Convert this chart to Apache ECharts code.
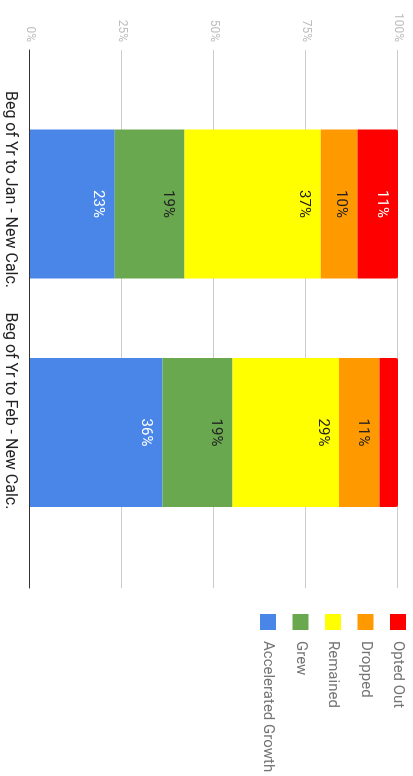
<!DOCTYPE html>
<html>
<head>
<meta charset="utf-8">
<script src="https://cdn.jsdelivr.net/npm/echarts@6/dist/echarts.min.js"></script>
<style>
html,body{margin:0;padding:0;background:#fff;overflow:hidden;width:413px;height:776px;}
#chart{position:absolute;left:0;top:0;width:776px;height:413px;transform-origin:0 0;transform:translateX(413px) rotate(90deg);}
</style>
</head>
<body>
<div id="chart"></div>
<script>
const categories = ['Beg of Yr to Jan - New Calc.', 'Beg of Yr to Feb - New Calc.'];
const seriesNames = ['Accelerated Growth', 'Grew', 'Remained', 'Dropped', 'Opted Out'];
const acceleratedGrowth = [23, 36];
const grew = [19, 19];
const remained = [37, 29];
const dropped = [10, 11];
const optedOut = [11, 5];
const valueTicks = [0, 25, 50, 75, 100];
const legendOrder = ['Opted Out', 'Dropped', 'Remained', 'Grew', 'Accelerated Growth'];

const colors = ['#4a86e8', '#6aa84f', '#ffff00', '#ff9900', '#ff0000'];
const labelColors = ['#ffffff', '#222222', '#222222', '#222222', '#ffffff'];
const values = [acceleratedGrowth, grew, remained, dropped, optedOut];

const chart = echarts.init(document.getElementById('chart'), null, {renderer: 'canvas'});
const FONT = 'Roboto';

const series = seriesNames.map((name, i) => ({
  name: name,
  type: 'bar',
  stack: 'total',
  xAxisIndex: 1,
  yAxisIndex: 1,
  barWidth: 149,
  data: values[i],
  itemStyle: {
    color: colors[i],
    borderRadius: i === seriesNames.length - 1 ? [2, 2, 0, 0] : 0
  },
  label: {
    show: true,
    position: 'insideTop',
    distance: 9,
    color: labelColors[i],
    fontFamily: FONT,
    fontSize: 15,
    lineHeight: 15,
    formatter: p => (p.value >= 8 ? p.value + '%' : '')
  },
  emphasis: {disabled: true}
}));

chart.setOption({
  animation: false,
  textStyle: {fontFamily: FONT},
  grid: [
    {left: 50, right: 188, top: 15, bottom: 30},
    {left: 89.75, right: 229.25, top: 15, bottom: 30},
    {left: 78.75, right: 254.25, top: 15, bottom: 30}
  ],
  xAxis: [
    {gridIndex: 0, type: 'value', min: 0, max: 1,
     axisLine: {show: true, lineStyle: {color: '#333333', width: 1}},
     axisTick: {show: false}, axisLabel: {show: false}, splitLine: {show: false}},
    {gridIndex: 1, type: 'category', data: categories,
     axisLine: {show: false}, axisTick: {show: false}, axisLabel: {show: false}, splitLine: {show: false}},
    {gridIndex: 2, type: 'category', data: categories,
     axisLine: {show: false}, axisTick: {show: false}, splitLine: {show: false},
     axisLabel: {show: true, interval: 0, color: '#222222', fontFamily: FONT, fontSize: 16, margin: 12}}
  ],
  yAxis: [
    {gridIndex: 0, type: 'value', min: valueTicks[0], max: valueTicks[valueTicks.length - 1], interval: 25,
     axisLine: {show: false}, axisTick: {show: false},
     axisLabel: {color: '#bdbdbd', fontFamily: FONT, fontSize: 12, margin: 8, formatter: '{value}%'},
     splitLine: {show: true, lineStyle: {color: '#cccccc', width: 1}}},
    {gridIndex: 1, type: 'value', min: 0, max: 100, show: false},
    {gridIndex: 2, type: 'value', min: 0, max: 100, show: false}
  ],
  legend: {
    orient: 'vertical',
    left: 614,
    top: 7,
    padding: 0,
    itemWidth: 16,
    itemHeight: 16,
    itemGap: 16.5,
    icon: 'rect',
    data: legendOrder,
    selectedMode: false,
    textStyle: {color: '#757575', fontFamily: FONT, fontSize: 15, lineHeight: 16, padding: [0, 0, 0, 6]}
  },
  series: series
});
</script>
</body>
</html>
